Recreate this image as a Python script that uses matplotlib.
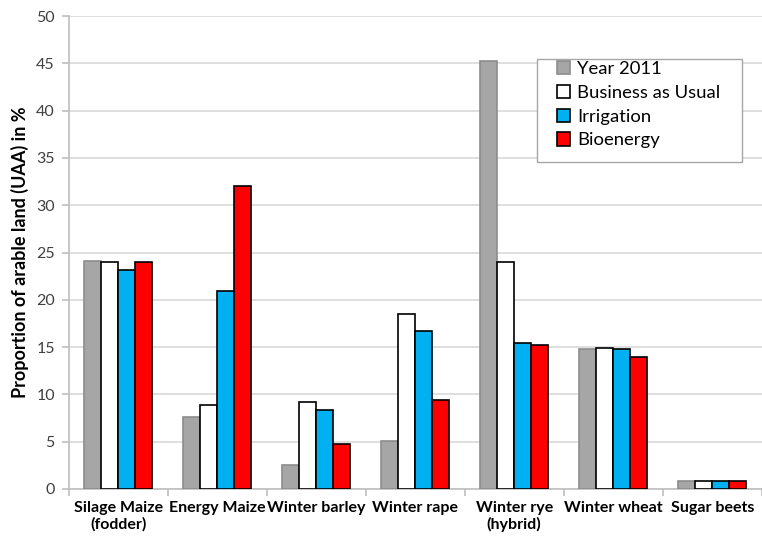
import numpy as np
import matplotlib
matplotlib.use('Agg')
import matplotlib.pyplot as plt
from matplotlib.ticker import FixedLocator
from matplotlib.patches import Rectangle

matplotlib.rcParams['font.family'] = ['Lato', 'DejaVu Sans']

categories = ['Silage Maize\n(fodder)', 'Energy Maize', 'Winter barley', 'Winter rape',
              'Winter rye\n(hybrid)', 'Winter wheat', 'Sugar beets']
year_2011 = [24.1, 7.6, 2.5, 5.1, 45.2, 14.8, 0.8]
business_as_usual = [24.0, 8.9, 9.2, 18.5, 24.0, 14.9, 0.8]
irrigation = [23.2, 20.9, 8.4, 16.7, 15.4, 14.8, 0.8]
bioenergy = [24.0, 32.0, 4.8, 9.4, 15.2, 14.0, 0.8]

series = [
    ('Year 2011', year_2011, '#a6a6a6', '#8c8c8c'),
    ('Business as Usual', business_as_usual, 'white', 'black'),
    ('Irrigation', irrigation, '#00b0f0', 'black'),
    ('Bioenergy', bioenergy, '#ff0000', 'black'),
]

fig = plt.figure(figsize=(7.62, 5.36), dpi=100)
ax = fig.add_axes([0.0902, 0.0877, 0.9094, 0.8823])

x = np.arange(len(categories))
w = 0.173
for i, (name, vals, fc, ec) in enumerate(series):
    ax.bar(x + (i - 1.5) * w, vals, w, color=fc, edgecolor=ec, linewidth=1.2,
           label=name, zorder=3)

ax.set_xlim(-0.5, len(categories) - 0.5)
ax.set_ylim(0, 50)
ax.set_yticks(range(0, 51, 5))
ax.grid(axis='y', color='#d9d9d9', linewidth=1.2, zorder=0)

ax.set_xticks(x)
ax.set_xticklabels(categories, fontsize=11.5, fontweight='bold', linespacing=1.1)
ax.xaxis.set_minor_locator(FixedLocator(np.arange(-0.5, len(categories), 1.0)))
ax.tick_params(axis='x', which='major', length=0, pad=9)
ax.tick_params(axis='x', which='minor', length=5, color='#bfbfbf', width=1.2)
ax.tick_params(axis='y', length=5, color='#bfbfbf', width=1.2, labelsize=11.5,
               labelcolor='#404040', pad=5)

for s in ['top', 'right']:
    ax.spines[s].set_visible(False)
for s in ['left', 'bottom']:
    ax.spines[s].set_color('#bfbfbf')
    ax.spines[s].set_linewidth(1.2)

ax.set_ylabel('Proportion of arable land (UAA) in %', fontsize=13, fontweight='bold',
              labelpad=5)

# legend frame drawn separately (wide side padding like the original)
frame = Rectangle((537 / 762, 1 - 162 / 536), 205 / 762, 103 / 536,
                  transform=fig.transFigure, facecolor='white', edgecolor='#a6a6a6',
                  linewidth=1.0, zorder=4)
fig.patches.append(frame)

leg = fig.legend(loc='upper left', bbox_to_anchor=(557 / 762, 1 - 61 / 536),
                 bbox_transform=fig.transFigure, fontsize=13.3, frameon=False,
                 handlelength=0.72, handleheight=0.72, handletextpad=0.35,
                 borderpad=0, labelspacing=0.42, borderaxespad=0)
leg.set_zorder(5)

fig.savefig('out.png', dpi=100)
